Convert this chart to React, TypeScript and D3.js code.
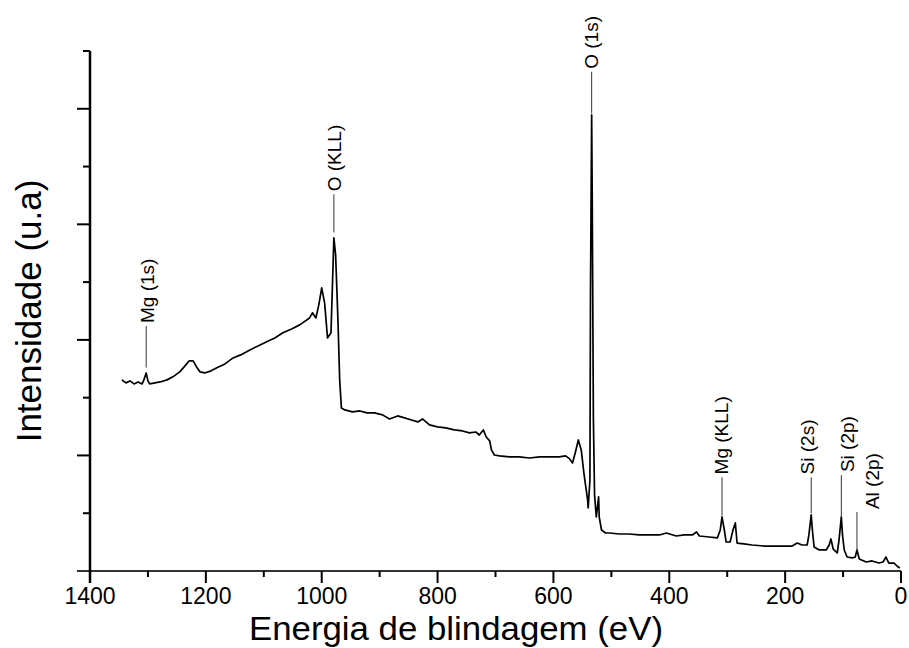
import React from "react";
import * as d3 from "d3";

// Spectrum (binding energy in eV, intensity in arbitrary units)
const energy = [
  1345, 1338, 1331, 1324, 1317, 1310, 1307, 1303, 1300, 1297, 1288, 1279, 1267, 1257, 1245, 1236, 1229, 1222, 1216, 1210,
  1202, 1191, 1181, 1167, 1153, 1140, 1124, 1110, 1095, 1081, 1067, 1052, 1038, 1028, 1021, 1016, 1010, 1005, 1000, 995,
  990, 984, 979, 976, 972, 969, 966, 960, 947, 934, 922, 909, 895, 883, 869, 857, 845, 834, 826, 814,
  800, 786, 771, 757, 745, 734, 728, 721, 716, 710, 707, 702, 693, 676, 659, 641, 624, 607, 590, 579,
  572, 567, 562, 557, 552, 547, 541, 540, 537, 536, 534, 533, 531, 529, 526, 522, 521, 517, 510, 503,
  486, 469, 452, 434, 417, 405, 388, 374, 360, 353, 348, 331, 317, 312, 309, 305, 302, 295, 290, 286,
  283, 271, 257, 236, 216, 202, 188, 179, 171, 162, 159, 155, 153, 150, 141, 129, 124, 121, 117, 110,
  107, 103, 101, 98, 93, 84, 79, 76, 72, 60, 50, 38, 31, 26, 21, 12, 7, 2,
];
const intensity = [
  1.654, 1.628, 1.645, 1.619, 1.636, 1.619, 1.654, 1.714, 1.645, 1.619, 1.628, 1.636, 1.654, 1.68, 1.723, 1.775, 1.818, 1.818, 1.766, 1.723,
  1.714, 1.732, 1.758, 1.792, 1.844, 1.87, 1.913, 1.948, 1.983, 2.017, 2.061, 2.095, 2.13, 2.165, 2.19, 2.234, 2.19, 2.303, 2.45, 2.32,
  2.017, 2.061, 2.883, 2.736, 2.173, 1.654, 1.411, 1.394, 1.377, 1.385, 1.368, 1.368, 1.351, 1.316, 1.342, 1.325, 1.307, 1.29, 1.316, 1.264,
  1.247, 1.238, 1.221, 1.212, 1.195, 1.203, 1.177, 1.221, 1.16, 1.126, 1.048, 1.004, 0.996, 0.987, 0.987, 0.978, 0.987, 0.987, 0.987, 0.996,
  0.97, 0.935, 1.03, 1.134, 1.048, 0.831, 0.615, 0.545, 0.788, 2.433, 3.948, 3.212, 1.307, 0.658, 0.468, 0.641, 0.468, 0.355, 0.329, 0.329,
  0.32, 0.32, 0.312, 0.312, 0.312, 0.329, 0.303, 0.312, 0.312, 0.338, 0.303, 0.294, 0.286, 0.355, 0.468, 0.355, 0.251, 0.251, 0.355, 0.416,
  0.242, 0.234, 0.225, 0.216, 0.216, 0.216, 0.216, 0.242, 0.225, 0.225, 0.312, 0.485, 0.355, 0.208, 0.182, 0.182, 0.225, 0.277, 0.19, 0.156,
  0.268, 0.468, 0.312, 0.182, 0.121, 0.113, 0.121, 0.182, 0.104, 0.078, 0.087, 0.069, 0.078, 0.121, 0.069, 0.069, 0.043, 0.026,
];

// Axis ticks
const xMajorTicks = [1400, 1200, 1000, 800, 600, 400, 200, 0];
const xMinorTicks = [1300, 1100, 900, 700, 500, 300, 100];
const yMajorTicks = [0, 1, 2, 3, 4];
const yMinorTicks = [0.5, 1.5, 2.5, 3.5, 4.5];

// Peak annotations
const peakLabels = ["Mg (1s)", "O (KLL)", "O (1s)", "Mg (KLL)", "Si (2s)", "Si (2p)", "Al (2p)"];
const peakEnergies = [1303, 979, 534, 309, 155, 103, 76];
const leaderFrom = [1.76, 2.93, 3.96, 0.48, 0.5, 0.47, 0.17];
const leaderTo = [2.12, 3.26, 4.32, 0.81, 0.81, 0.83, 0.51];

// Layout (pixels)
const labelGap = 3;
const labelShift = [1, 0, 0, -1, -4, 6, 15];

const W = 909;
const H = 648;
const M = { left: 90, right: 901, top: 51, bottom: 571 };
const FONT = "'Liberation Sans', Arial, Helvetica, sans-serif";

export default function App() {
  const x = d3.scaleLinear().domain([1400, 0]).range([M.left, M.right]);
  const y = d3.scaleLinear().domain([0, 4.5]).range([M.bottom, M.top]);
  const pts: [number, number][] = energy.map((e, i) => [e, intensity[i]]);
  const line = d3
    .line<[number, number]>()
    .x((d) => x(d[0]))
    .y((d) => y(d[1]));

  return (
    <svg
      width={W}
      height={H}
      viewBox={`0 0 ${W} ${H}`}
      style={{ position: "absolute", left: 0, top: 0, background: "#fff" }}
      fontFamily={FONT}
    >
      <rect x={0} y={0} width={W} height={H} fill="#fff" />
      {/* spectrum */}
      <path d={line(pts) || ""} fill="none" stroke="#000" strokeWidth={1.7} strokeLinejoin="round" />

      {/* leader lines and labels */}
      {peakLabels.map((lab, i) => {
        const px = x(peakEnergies[i]);
        const y1 = y(leaderFrom[i]);
        const y2 = y(leaderTo[i]);
        const tx = px + labelShift[i];
        const ty = y2 - labelGap;
        return (
          <g key={lab}>
            <line x1={px} x2={px} y1={y1} y2={y2} stroke="#333" strokeWidth={1} />
            <text
              transform={`translate(${tx},${ty}) rotate(-90)`}
              dy="0.35em"
              fontSize={19}
              fill="#000"
              textAnchor="start"
            >
              {lab}
            </text>
          </g>
        );
      })}

      {/* x axis */}
      <line x1={M.left - 13} x2={M.right} y1={M.bottom} y2={M.bottom} stroke="#333" strokeWidth={2} />
      {xMajorTicks.map((t) => (
        <g key={"xM" + t}>
          <line x1={x(t)} x2={x(t)} y1={M.bottom} y2={M.bottom + 12} stroke="#000" strokeWidth={2} />
          <text x={x(t)} y={604} fontSize={23} textAnchor="middle" fill="#000">
            {t}
          </text>
        </g>
      ))}
      {xMinorTicks.map((t) => (
        <line key={"xm" + t} x1={x(t)} x2={x(t)} y1={M.bottom} y2={M.bottom + 6} stroke="#000" strokeWidth={2} />
      ))}

      {/* y axis */}
      <line x1={M.left} x2={M.left} y1={M.top} y2={M.bottom + 12} stroke="#000" strokeWidth={2.5} />
      {yMajorTicks
        .filter((t) => t > 0)
        .map((t) => (
          <line key={"yM" + t} x1={M.left - 13} x2={M.left} y1={y(t)} y2={y(t)} stroke="#000" strokeWidth={2} />
        ))}
      {yMinorTicks.map((t) => (
        <line key={"ym" + t} x1={M.left - 7} x2={M.left} y1={y(t)} y2={y(t)} stroke="#000" strokeWidth={2} />
      ))}

      {/* axis titles */}
      <text
        x={456}
        y={640}
        fontSize={33}
        textAnchor="middle"
        textLength={414}
        lengthAdjust="spacingAndGlyphs"
        fill="#000"
      >
        Energia de blindagem (eV)
      </text>
      <text transform={`translate(41,${(M.top + M.bottom) / 2}) rotate(-90)`} fontSize={35} textAnchor="middle" fill="#000">
        Intensidade (u.a)
      </text>
    </svg>
  );
}
